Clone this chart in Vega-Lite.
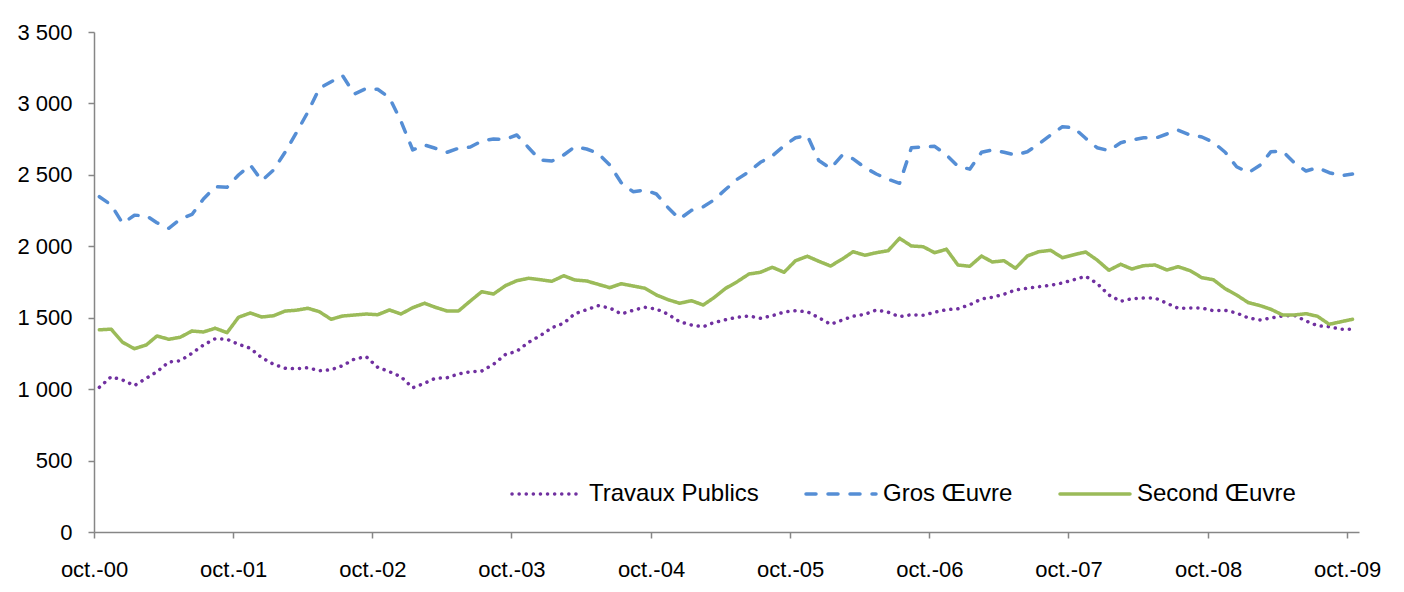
{
"$schema": "https://vega.github.io/schema/vega-lite/v6.json",
"width": 1265, "height": 500,
"autosize": {"type": "none"},
"padding": {"left": 94, "top": 32, "right": 45, "bottom": 60},
"background": "white",
"config": {"view": {"stroke": null}, "font": "Liberation Sans"},
"data": {"values": [
{"d":"2000-10-15","s":"Travaux Publics","v":1013},{"d":"2000-11-15","s":"Travaux Publics","v":1087},{"d":"2000-12-15","s":"Travaux Publics","v":1064},{"d":"2001-01-15","s":"Travaux Publics","v":1025},{"d":"2001-02-15","s":"Travaux Publics","v":1076},{"d":"2001-03-15","s":"Travaux Publics","v":1122},{"d":"2001-04-15","s":"Travaux Publics","v":1190},{"d":"2001-05-15","s":"Travaux Publics","v":1199},{"d":"2001-06-15","s":"Travaux Publics","v":1251},{"d":"2001-07-15","s":"Travaux Publics","v":1309},{"d":"2001-08-15","s":"Travaux Publics","v":1353},{"d":"2001-09-15","s":"Travaux Publics","v":1349},
{"d":"2001-10-15","s":"Travaux Publics","v":1314},{"d":"2001-11-15","s":"Travaux Publics","v":1286},{"d":"2001-12-15","s":"Travaux Publics","v":1220},{"d":"2002-01-15","s":"Travaux Publics","v":1174},{"d":"2002-02-15","s":"Travaux Publics","v":1146},{"d":"2002-03-15","s":"Travaux Publics","v":1143},{"d":"2002-04-15","s":"Travaux Publics","v":1150},{"d":"2002-05-15","s":"Travaux Publics","v":1129},{"d":"2002-06-15","s":"Travaux Publics","v":1136},{"d":"2002-07-15","s":"Travaux Publics","v":1164},{"d":"2002-08-15","s":"Travaux Publics","v":1211},{"d":"2002-09-15","s":"Travaux Publics","v":1227},
{"d":"2002-10-15","s":"Travaux Publics","v":1153},{"d":"2002-11-15","s":"Travaux Publics","v":1122},{"d":"2002-12-15","s":"Travaux Publics","v":1087},{"d":"2003-01-15","s":"Travaux Publics","v":1010},{"d":"2003-02-15","s":"Travaux Publics","v":1041},{"d":"2003-03-15","s":"Travaux Publics","v":1076},{"d":"2003-04-15","s":"Travaux Publics","v":1080},{"d":"2003-05-15","s":"Travaux Publics","v":1106},{"d":"2003-06-15","s":"Travaux Publics","v":1122},{"d":"2003-07-15","s":"Travaux Publics","v":1127},{"d":"2003-08-15","s":"Travaux Publics","v":1174},{"d":"2003-09-15","s":"Travaux Publics","v":1242},
{"d":"2003-10-15","s":"Travaux Publics","v":1265},{"d":"2003-11-15","s":"Travaux Publics","v":1328},{"d":"2003-12-15","s":"Travaux Publics","v":1374},{"d":"2004-01-15","s":"Travaux Publics","v":1430},{"d":"2004-02-15","s":"Travaux Publics","v":1461},{"d":"2004-03-15","s":"Travaux Publics","v":1528},{"d":"2004-04-15","s":"Travaux Publics","v":1556},{"d":"2004-05-15","s":"Travaux Publics","v":1584},{"d":"2004-06-15","s":"Travaux Publics","v":1568},{"d":"2004-07-15","s":"Travaux Publics","v":1526},{"d":"2004-08-15","s":"Travaux Publics","v":1552},{"d":"2004-09-15","s":"Travaux Publics","v":1573},
{"d":"2004-10-15","s":"Travaux Publics","v":1561},{"d":"2004-11-15","s":"Travaux Publics","v":1524},{"d":"2004-12-15","s":"Travaux Publics","v":1472},{"d":"2005-01-15","s":"Travaux Publics","v":1449},{"d":"2005-02-15","s":"Travaux Publics","v":1437},{"d":"2005-03-15","s":"Travaux Publics","v":1466},{"d":"2005-04-15","s":"Travaux Publics","v":1486},{"d":"2005-05-15","s":"Travaux Publics","v":1503},{"d":"2005-06-15","s":"Travaux Publics","v":1512},{"d":"2005-07-15","s":"Travaux Publics","v":1496},{"d":"2005-08-15","s":"Travaux Publics","v":1514},{"d":"2005-09-15","s":"Travaux Publics","v":1540},
{"d":"2005-10-15","s":"Travaux Publics","v":1549},{"d":"2005-11-15","s":"Travaux Publics","v":1542},{"d":"2005-12-15","s":"Travaux Publics","v":1500},{"d":"2006-01-15","s":"Travaux Publics","v":1454},{"d":"2006-02-15","s":"Travaux Publics","v":1484},{"d":"2006-03-15","s":"Travaux Publics","v":1510},{"d":"2006-04-15","s":"Travaux Publics","v":1524},{"d":"2006-05-15","s":"Travaux Publics","v":1554},{"d":"2006-06-15","s":"Travaux Publics","v":1538},{"d":"2006-07-15","s":"Travaux Publics","v":1507},{"d":"2006-08-15","s":"Travaux Publics","v":1521},{"d":"2006-09-15","s":"Travaux Publics","v":1517},
{"d":"2006-10-15","s":"Travaux Publics","v":1538},{"d":"2006-11-15","s":"Travaux Publics","v":1556},{"d":"2006-12-15","s":"Travaux Publics","v":1563},{"d":"2007-01-15","s":"Travaux Publics","v":1591},{"d":"2007-02-15","s":"Travaux Publics","v":1631},{"d":"2007-03-15","s":"Travaux Publics","v":1643},{"d":"2007-04-15","s":"Travaux Publics","v":1664},{"d":"2007-05-15","s":"Travaux Publics","v":1694},{"d":"2007-06-15","s":"Travaux Publics","v":1706},{"d":"2007-07-15","s":"Travaux Publics","v":1717},{"d":"2007-08-15","s":"Travaux Publics","v":1727},{"d":"2007-09-15","s":"Travaux Publics","v":1743},
{"d":"2007-10-15","s":"Travaux Publics","v":1766},{"d":"2007-11-15","s":"Travaux Publics","v":1790},{"d":"2007-12-15","s":"Travaux Publics","v":1740},{"d":"2008-01-15","s":"Travaux Publics","v":1659},{"d":"2008-02-15","s":"Travaux Publics","v":1615},{"d":"2008-03-15","s":"Travaux Publics","v":1633},{"d":"2008-04-15","s":"Travaux Publics","v":1638},{"d":"2008-05-15","s":"Travaux Publics","v":1638},{"d":"2008-06-15","s":"Travaux Publics","v":1601},{"d":"2008-07-15","s":"Travaux Publics","v":1566},{"d":"2008-08-15","s":"Travaux Publics","v":1568},{"d":"2008-09-15","s":"Travaux Publics","v":1568},
{"d":"2008-10-15","s":"Travaux Publics","v":1549},{"d":"2008-11-15","s":"Travaux Publics","v":1552},{"d":"2008-12-15","s":"Travaux Publics","v":1533},{"d":"2009-01-15","s":"Travaux Publics","v":1498},{"d":"2009-02-15","s":"Travaux Publics","v":1484},{"d":"2009-03-15","s":"Travaux Publics","v":1498},{"d":"2009-04-15","s":"Travaux Publics","v":1512},{"d":"2009-05-15","s":"Travaux Publics","v":1517},{"d":"2009-06-15","s":"Travaux Publics","v":1477},{"d":"2009-07-15","s":"Travaux Publics","v":1444},{"d":"2009-08-15","s":"Travaux Publics","v":1437},{"d":"2009-09-15","s":"Travaux Publics","v":1419},
{"d":"2009-10-15","s":"Travaux Publics","v":1419},
{"d":"2000-10-15","s":"Gros Œuvre","v":2347},{"d":"2000-11-15","s":"Gros Œuvre","v":2290},{"d":"2000-12-15","s":"Gros Œuvre","v":2161},{"d":"2001-01-15","s":"Gros Œuvre","v":2217},{"d":"2001-02-15","s":"Gros Œuvre","v":2215},{"d":"2001-03-15","s":"Gros Œuvre","v":2165},{"d":"2001-04-15","s":"Gros Œuvre","v":2126},{"d":"2001-05-15","s":"Gros Œuvre","v":2190},{"d":"2001-06-15","s":"Gros Œuvre","v":2223},{"d":"2001-07-15","s":"Gros Œuvre","v":2331},{"d":"2001-08-15","s":"Gros Œuvre","v":2417},{"d":"2001-09-15","s":"Gros Œuvre","v":2413},
{"d":"2001-10-15","s":"Gros Œuvre","v":2499},{"d":"2001-11-15","s":"Gros Œuvre","v":2569},{"d":"2001-12-15","s":"Gros Œuvre","v":2459},{"d":"2002-01-15","s":"Gros Œuvre","v":2534},{"d":"2002-02-15","s":"Gros Œuvre","v":2662},{"d":"2002-03-15","s":"Gros Œuvre","v":2791},{"d":"2002-04-15","s":"Gros Œuvre","v":2940},{"d":"2002-05-15","s":"Gros Œuvre","v":3105},{"d":"2002-06-15","s":"Gros Œuvre","v":3152},{"d":"2002-07-15","s":"Gros Œuvre","v":3194},{"d":"2002-08-15","s":"Gros Œuvre","v":3066},{"d":"2002-09-15","s":"Gros Œuvre","v":3105},
{"d":"2002-10-15","s":"Gros Œuvre","v":3099},{"d":"2002-11-15","s":"Gros Œuvre","v":3040},{"d":"2002-12-15","s":"Gros Œuvre","v":2877},{"d":"2003-01-15","s":"Gros Œuvre","v":2674},{"d":"2003-02-15","s":"Gros Œuvre","v":2709},{"d":"2003-03-15","s":"Gros Œuvre","v":2686},{"d":"2003-04-15","s":"Gros Œuvre","v":2658},{"d":"2003-05-15","s":"Gros Œuvre","v":2686},{"d":"2003-06-15","s":"Gros Œuvre","v":2695},{"d":"2003-07-15","s":"Gros Œuvre","v":2737},{"d":"2003-08-15","s":"Gros Œuvre","v":2751},{"d":"2003-09-15","s":"Gros Œuvre","v":2749},
{"d":"2003-10-15","s":"Gros Œuvre","v":2779},{"d":"2003-11-15","s":"Gros Œuvre","v":2690},{"d":"2003-12-15","s":"Gros Œuvre","v":2604},{"d":"2004-01-15","s":"Gros Œuvre","v":2597},{"d":"2004-02-15","s":"Gros Œuvre","v":2639},{"d":"2004-03-15","s":"Gros Œuvre","v":2697},{"d":"2004-04-15","s":"Gros Œuvre","v":2681},{"d":"2004-05-15","s":"Gros Œuvre","v":2651},{"d":"2004-06-15","s":"Gros Œuvre","v":2569},{"d":"2004-07-15","s":"Gros Œuvre","v":2445},{"d":"2004-08-15","s":"Gros Œuvre","v":2382},{"d":"2004-09-15","s":"Gros Œuvre","v":2394},
{"d":"2004-10-15","s":"Gros Œuvre","v":2366},{"d":"2004-11-15","s":"Gros Œuvre","v":2270},{"d":"2004-12-15","s":"Gros Œuvre","v":2191},{"d":"2005-01-15","s":"Gros Œuvre","v":2252},{"d":"2005-02-15","s":"Gros Œuvre","v":2277},{"d":"2005-03-15","s":"Gros Œuvre","v":2324},{"d":"2005-04-15","s":"Gros Œuvre","v":2399},{"d":"2005-05-15","s":"Gros Œuvre","v":2469},{"d":"2005-06-15","s":"Gros Œuvre","v":2522},{"d":"2005-07-15","s":"Gros Œuvre","v":2588},{"d":"2005-08-15","s":"Gros Œuvre","v":2632},{"d":"2005-09-15","s":"Gros Œuvre","v":2704},
{"d":"2005-10-15","s":"Gros Œuvre","v":2760},{"d":"2005-11-15","s":"Gros Œuvre","v":2775},{"d":"2005-12-15","s":"Gros Œuvre","v":2600},{"d":"2006-01-15","s":"Gros Œuvre","v":2545},{"d":"2006-02-15","s":"Gros Œuvre","v":2639},{"d":"2006-03-15","s":"Gros Œuvre","v":2612},{"d":"2006-04-15","s":"Gros Œuvre","v":2551},{"d":"2006-05-15","s":"Gros Œuvre","v":2506},{"d":"2006-06-15","s":"Gros Œuvre","v":2469},{"d":"2006-07-15","s":"Gros Œuvre","v":2441},{"d":"2006-08-15","s":"Gros Œuvre","v":2690},{"d":"2006-09-15","s":"Gros Œuvre","v":2695},
{"d":"2006-10-15","s":"Gros Œuvre","v":2700},{"d":"2006-11-15","s":"Gros Œuvre","v":2639},{"d":"2006-12-15","s":"Gros Œuvre","v":2560},{"d":"2007-01-15","s":"Gros Œuvre","v":2540},{"d":"2007-02-15","s":"Gros Œuvre","v":2658},{"d":"2007-03-15","s":"Gros Œuvre","v":2674},{"d":"2007-04-15","s":"Gros Œuvre","v":2658},{"d":"2007-05-15","s":"Gros Œuvre","v":2639},{"d":"2007-06-15","s":"Gros Œuvre","v":2662},{"d":"2007-07-15","s":"Gros Œuvre","v":2716},{"d":"2007-08-15","s":"Gros Œuvre","v":2779},{"d":"2007-09-15","s":"Gros Œuvre","v":2837},
{"d":"2007-10-15","s":"Gros Œuvre","v":2830},{"d":"2007-11-15","s":"Gros Œuvre","v":2756},{"d":"2007-12-15","s":"Gros Œuvre","v":2690},{"d":"2008-01-15","s":"Gros Œuvre","v":2670},{"d":"2008-02-15","s":"Gros Œuvre","v":2725},{"d":"2008-03-15","s":"Gros Œuvre","v":2744},{"d":"2008-04-15","s":"Gros Œuvre","v":2760},{"d":"2008-05-15","s":"Gros Œuvre","v":2756},{"d":"2008-06-15","s":"Gros Œuvre","v":2786},{"d":"2008-07-15","s":"Gros Œuvre","v":2812},{"d":"2008-08-15","s":"Gros Œuvre","v":2779},{"d":"2008-09-15","s":"Gros Œuvre","v":2765},
{"d":"2008-10-15","s":"Gros Œuvre","v":2728},{"d":"2008-11-15","s":"Gros Œuvre","v":2658},{"d":"2008-12-15","s":"Gros Œuvre","v":2557},{"d":"2009-01-15","s":"Gros Œuvre","v":2515},{"d":"2009-02-15","s":"Gros Œuvre","v":2569},{"d":"2009-03-15","s":"Gros Œuvre","v":2662},{"d":"2009-04-15","s":"Gros Œuvre","v":2665},{"d":"2009-05-15","s":"Gros Œuvre","v":2585},{"d":"2009-06-15","s":"Gros Œuvre","v":2527},{"d":"2009-07-15","s":"Gros Œuvre","v":2551},{"d":"2009-08-15","s":"Gros Œuvre","v":2515},{"d":"2009-09-15","s":"Gros Œuvre","v":2494},
{"d":"2009-10-15","s":"Gros Œuvre","v":2506},
{"d":"2000-10-15","s":"Second Œuvre","v":1415},{"d":"2000-11-15","s":"Second Œuvre","v":1420},{"d":"2000-12-15","s":"Second Œuvre","v":1328},{"d":"2001-01-15","s":"Second Œuvre","v":1283},{"d":"2001-02-15","s":"Second Œuvre","v":1309},{"d":"2001-03-15","s":"Second Œuvre","v":1372},{"d":"2001-04-15","s":"Second Œuvre","v":1349},{"d":"2001-05-15","s":"Second Œuvre","v":1363},{"d":"2001-06-15","s":"Second Œuvre","v":1407},{"d":"2001-07-15","s":"Second Œuvre","v":1400},{"d":"2001-08-15","s":"Second Œuvre","v":1426},{"d":"2001-09-15","s":"Second Œuvre","v":1395},
{"d":"2001-10-15","s":"Second Œuvre","v":1503},{"d":"2001-11-15","s":"Second Œuvre","v":1533},{"d":"2001-12-15","s":"Second Œuvre","v":1505},{"d":"2002-01-15","s":"Second Œuvre","v":1514},{"d":"2002-02-15","s":"Second Œuvre","v":1547},{"d":"2002-03-15","s":"Second Œuvre","v":1552},{"d":"2002-04-15","s":"Second Œuvre","v":1566},{"d":"2002-05-15","s":"Second Œuvre","v":1542},{"d":"2002-06-15","s":"Second Œuvre","v":1489},{"d":"2002-07-15","s":"Second Œuvre","v":1512},{"d":"2002-08-15","s":"Second Œuvre","v":1519},{"d":"2002-09-15","s":"Second Œuvre","v":1526},
{"d":"2002-10-15","s":"Second Œuvre","v":1521},{"d":"2002-11-15","s":"Second Œuvre","v":1554},{"d":"2002-12-15","s":"Second Œuvre","v":1526},{"d":"2003-01-15","s":"Second Œuvre","v":1570},{"d":"2003-02-15","s":"Second Œuvre","v":1601},{"d":"2003-03-15","s":"Second Œuvre","v":1573},{"d":"2003-04-15","s":"Second Œuvre","v":1547},{"d":"2003-05-15","s":"Second Œuvre","v":1547},{"d":"2003-06-15","s":"Second Œuvre","v":1617},{"d":"2003-07-15","s":"Second Œuvre","v":1682},{"d":"2003-08-15","s":"Second Œuvre","v":1666},{"d":"2003-09-15","s":"Second Œuvre","v":1724},
{"d":"2003-10-15","s":"Second Œuvre","v":1759},{"d":"2003-11-15","s":"Second Œuvre","v":1776},{"d":"2003-12-15","s":"Second Œuvre","v":1766},{"d":"2004-01-15","s":"Second Œuvre","v":1755},{"d":"2004-02-15","s":"Second Œuvre","v":1794},{"d":"2004-03-15","s":"Second Œuvre","v":1764},{"d":"2004-04-15","s":"Second Œuvre","v":1757},{"d":"2004-05-15","s":"Second Œuvre","v":1734},{"d":"2004-06-15","s":"Second Œuvre","v":1710},{"d":"2004-07-15","s":"Second Œuvre","v":1738},{"d":"2004-08-15","s":"Second Œuvre","v":1722},{"d":"2004-09-15","s":"Second Œuvre","v":1706},
{"d":"2004-10-15","s":"Second Œuvre","v":1659},{"d":"2004-11-15","s":"Second Œuvre","v":1626},{"d":"2004-12-15","s":"Second Œuvre","v":1601},{"d":"2005-01-15","s":"Second Œuvre","v":1619},{"d":"2005-02-15","s":"Second Œuvre","v":1589},{"d":"2005-03-15","s":"Second Œuvre","v":1640},{"d":"2005-04-15","s":"Second Œuvre","v":1706},{"d":"2005-05-15","s":"Second Œuvre","v":1752},{"d":"2005-06-15","s":"Second Œuvre","v":1806},{"d":"2005-07-15","s":"Second Œuvre","v":1818},{"d":"2005-08-15","s":"Second Œuvre","v":1853},{"d":"2005-09-15","s":"Second Œuvre","v":1818},
{"d":"2005-10-15","s":"Second Œuvre","v":1899},{"d":"2005-11-15","s":"Second Œuvre","v":1930},{"d":"2005-12-15","s":"Second Œuvre","v":1895},{"d":"2006-01-15","s":"Second Œuvre","v":1862},{"d":"2006-02-15","s":"Second Œuvre","v":1911},{"d":"2006-03-15","s":"Second Œuvre","v":1962},{"d":"2006-04-15","s":"Second Œuvre","v":1937},{"d":"2006-05-15","s":"Second Œuvre","v":1955},{"d":"2006-06-15","s":"Second Œuvre","v":1969},{"d":"2006-07-15","s":"Second Œuvre","v":2056},{"d":"2006-08-15","s":"Second Œuvre","v":2002},{"d":"2006-09-15","s":"Second Œuvre","v":1997},
{"d":"2006-10-15","s":"Second Œuvre","v":1955},{"d":"2006-11-15","s":"Second Œuvre","v":1979},{"d":"2006-12-15","s":"Second Œuvre","v":1869},{"d":"2007-01-15","s":"Second Œuvre","v":1860},{"d":"2007-02-15","s":"Second Œuvre","v":1932},{"d":"2007-03-15","s":"Second Œuvre","v":1890},{"d":"2007-04-15","s":"Second Œuvre","v":1899},{"d":"2007-05-15","s":"Second Œuvre","v":1846},{"d":"2007-06-15","s":"Second Œuvre","v":1932},{"d":"2007-07-15","s":"Second Œuvre","v":1962},{"d":"2007-08-15","s":"Second Œuvre","v":1972},{"d":"2007-09-15","s":"Second Œuvre","v":1920},
{"d":"2007-10-15","s":"Second Œuvre","v":1941},{"d":"2007-11-15","s":"Second Œuvre","v":1960},{"d":"2007-12-15","s":"Second Œuvre","v":1904},{"d":"2008-01-15","s":"Second Œuvre","v":1832},{"d":"2008-02-15","s":"Second Œuvre","v":1874},{"d":"2008-03-15","s":"Second Œuvre","v":1841},{"d":"2008-04-15","s":"Second Œuvre","v":1864},{"d":"2008-05-15","s":"Second Œuvre","v":1869},{"d":"2008-06-15","s":"Second Œuvre","v":1834},{"d":"2008-07-15","s":"Second Œuvre","v":1857},{"d":"2008-08-15","s":"Second Œuvre","v":1829},{"d":"2008-09-15","s":"Second Œuvre","v":1780},
{"d":"2008-10-15","s":"Second Œuvre","v":1766},{"d":"2008-11-15","s":"Second Œuvre","v":1703},{"d":"2008-12-15","s":"Second Œuvre","v":1659},{"d":"2009-01-15","s":"Second Œuvre","v":1605},{"d":"2009-02-15","s":"Second Œuvre","v":1584},{"d":"2009-03-15","s":"Second Œuvre","v":1559},{"d":"2009-04-15","s":"Second Œuvre","v":1519},{"d":"2009-05-15","s":"Second Œuvre","v":1519},{"d":"2009-06-15","s":"Second Œuvre","v":1528},{"d":"2009-07-15","s":"Second Œuvre","v":1510},{"d":"2009-08-15","s":"Second Œuvre","v":1454},{"d":"2009-09-15","s":"Second Œuvre","v":1472},
{"d":"2009-10-15","s":"Second Œuvre","v":1489}
]},
"mark": {"type": "line", "strokeWidth": 3.5, "strokeCap": "round", "strokeJoin": "round", "clip": false},
"encoding": {
"x": {"field": "d", "type": "temporal",
 "scale": {"type": "utc", "domain": [{"year": 2000, "month": 10, "date": 1, "utc": true}, {"year": 2009, "month": 11, "date": 1, "utc": true}]},
 "axis": {"title": null, "grid": false,
  "values": [{"year": 2000, "month": 10, "date": 1, "utc": true},{"year": 2001, "month": 10, "date": 1, "utc": true},{"year": 2002, "month": 10, "date": 1, "utc": true},{"year": 2003, "month": 10, "date": 1, "utc": true},{"year": 2004, "month": 10, "date": 1, "utc": true},{"year": 2005, "month": 10, "date": 1, "utc": true},{"year": 2006, "month": 10, "date": 1, "utc": true},{"year": 2007, "month": 10, "date": 1, "utc": true},{"year": 2008, "month": 10, "date": 1, "utc": true},{"year": 2009, "month": 10, "date": 1, "utc": true}],
  "labelExpr": "'oct.-' + utcFormat(datum.value, '%y')",
  "domainColor": "#868686", "domainWidth": 1.5, "tickColor": "#868686", "tickWidth": 1.5, "tickSize": 6,
  "labelFont": "Liberation Sans", "labelFontSize": 22, "labelColor": "#000000", "labelPadding": 21, "labelDx": 5,
  "labelFlush": false, "labelOverlap": false}},
"y": {"field": "v", "type": "quantitative",
 "scale": {"domain": [0, 3500], "nice": false},
 "axis": {"title": null, "grid": false, "values": [0,500,1000,1500,2000,2500,3000,3500],
  "labelExpr": "replace(format(datum.value, ','), ',', ' ')",
  "domainColor": "#868686", "domainWidth": 1.5, "tickColor": "#868686", "tickWidth": 1.5, "tickSize": 6,
  "labelFont": "Liberation Sans", "labelFontSize": 22, "labelColor": "#000000", "labelPadding": 16}},
"color": {"field": "s", "type": "nominal",
 "scale": {"domain": ["Travaux Publics", "Gros Œuvre", "Second Œuvre"], "range": ["#7030a0", "#558ed5", "#9bbb59"]},
 "legend": {"title": null, "orient": "none", "legendX": 416, "legendY": 425, "direction": "horizontal",
  "symbolType": "stroke", "symbolSize": 4900, "symbolStrokeWidth": 3.5, "labelFont": "Liberation Sans", "labelFontSize": 24, "labelColor": "#000000", "labelLimit": 400, "columnPadding": 40, "labelOffset": 5,
  "encode": {"symbols": {"update": {"strokeCap": {"value": "round"}}}}}},
"strokeDash": {"field": "s", "type": "nominal",
 "scale": {"domain": ["Travaux Publics", "Gros Œuvre", "Second Œuvre"], "range": [[0.1, 7], [10, 12], [1, 0]]},
 "legend": {"title": null, "orient": "none", "legendX": 416, "legendY": 425, "direction": "horizontal",
  "symbolType": "stroke", "symbolSize": 4900, "symbolStrokeWidth": 3.5, "labelFont": "Liberation Sans", "labelFontSize": 24, "labelColor": "#000000", "labelLimit": 400, "columnPadding": 40, "labelOffset": 5,
  "encode": {"symbols": {"update": {"strokeCap": {"value": "round"}}}}}}
}
}
